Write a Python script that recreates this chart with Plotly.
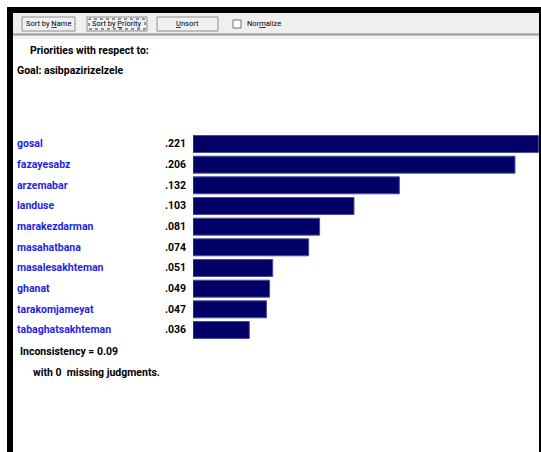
import plotly.graph_objects as go

W, H = 541, 452

categories = ["gosal", "fazayesabz", "arzemabar", "landuse", "marakezdarman",
              "masahatbana", "masalesakhteman", "ghanat", "tarakomjameyat",
              "tabaghatsakhteman"]
priorities = [0.221, 0.206, 0.132, 0.103, 0.081, 0.074, 0.051, 0.049, 0.047, 0.036]
value_labels = [".221", ".206", ".132", ".103", ".081", ".074", ".051", ".049", ".047", ".036"]
button_labels = ["Sort by <u>N</u>ame", "Sort by <u>P</u>riority", "<u>U</u>nsort"]
title_line1 = "Priorities with respect to:"
title_line2 = "Goal: asibpazirizelzele"
inconsistency_text = "Inconsistency = 0.09"
missing_text = "with 0  missing judgments."

FONT = "Roboto, 'Liberation Sans', sans-serif"
FS = 10.5
LABEL_BLUE = "#1f1fe6"
BAR_FILL = "#000066"


def px(x):
    return x / W


def py(y):
    return 1 - y / H


fig = go.Figure()
fig.add_trace(go.Bar(
    x=priorities, y=categories, orientation="h", width=0.82,
    marker=dict(color=BAR_FILL, line=dict(color="#4a4a9a", width=1)),
    hoverinfo="skip",
))

shapes = []
shapes.append(dict(type="rect", xref="paper", yref="paper", x0=px(13), x1=px(539),
                   y0=py(34), y1=py(13), fillcolor="#efefef", line=dict(width=0), layer="below"))
shapes.append(dict(type="line", xref="paper", yref="paper", x0=px(13), x1=px(539),
                   y0=py(34.5), y1=py(34.5), line=dict(color="#9a9a9a", width=2)))
shapes.append(dict(type="rect", xref="paper", yref="paper", x0=px(13), x1=px(539),
                   y0=py(39), y1=py(35.5), fillcolor="#f3f3f3", line=dict(width=0), layer="below"))
btn_x = [(22, 75), (87, 147), (157, 218)]
for i, (a, b) in enumerate(btn_x):
    shapes.append(dict(type="rect", xref="paper", yref="paper", x0=px(a), x1=px(b),
                       y0=py(31), y1=py(17), fillcolor="#f0f0f0",
                       line=dict(color="#8c8c8c", width=1)))
shapes.append(dict(type="rect", xref="paper", yref="paper", x0=px(89), x1=px(145),
                   y0=py(29), y1=py(19), fillcolor="rgba(0,0,0,0)",
                   line=dict(color="#333333", width=1, dash="dot")))
shapes.append(dict(type="rect", xref="paper", yref="paper", x0=px(233), x1=px(241),
                   y0=py(28), y1=py(20), fillcolor="#ffffff",
                   line=dict(color="#707070", width=1)))
shapes.append(dict(type="rect", xref="paper", yref="paper", x0=px(7), x1=px(541),
                   y0=py(13), y1=py(7), fillcolor="#000000", line=dict(width=0)))
shapes.append(dict(type="rect", xref="paper", yref="paper", x0=px(7), x1=px(13),
                   y0=py(452), y1=py(7), fillcolor="#000000", line=dict(width=0)))
shapes.append(dict(type="rect", xref="paper", yref="paper", x0=px(539), x1=px(541),
                   y0=py(452), y1=py(7), fillcolor="#000000", line=dict(width=0)))

annotations = []
for i, lab in enumerate(button_labels):
    a, b = btn_x[i]
    annotations.append(dict(text=lab, xref="paper", yref="paper", x=px((a + b) / 2), y=py(24),
                            showarrow=False, xanchor="center", yanchor="middle",
                            font=dict(family=FONT, size=7.5, color="#000000")))
annotations.append(dict(text="Nor<u>m</u>alize", xref="paper", yref="paper", x=px(245), y=py(24),
                        showarrow=False, xanchor="left", yanchor="middle",
                        font=dict(family=FONT, size=7.5, color="#000000")))
annotations.append(dict(text="<b>" + title_line1 + "</b>", xref="paper", yref="paper",
                        x=px(28), y=py(50), showarrow=False, xanchor="left", yanchor="middle",
                        font=dict(family=FONT, size=FS, color="#000000")))
annotations.append(dict(text="<b>" + title_line2 + "</b>", xref="paper", yref="paper",
                        x=px(15), y=py(71), showarrow=False, xanchor="left", yanchor="middle",
                        font=dict(family=FONT, size=FS, color="#000000")))
for cat, val in zip(categories, value_labels):
    annotations.append(dict(text="<b>" + cat + "</b>", xref="paper", yref="y",
                            x=px(15), y=cat, showarrow=False, xanchor="left", yanchor="middle",
                            font=dict(family=FONT, size=FS, color=LABEL_BLUE)))
    annotations.append(dict(text="<b>" + val + "</b>", xref="paper", yref="y",
                            x=px(188), y=cat, showarrow=False, xanchor="right", yanchor="middle",
                            font=dict(family=FONT, size=FS, color="#000000")))
annotations.append(dict(text="<b>" + inconsistency_text + "</b>", xref="paper", yref="paper",
                        x=px(18), y=py(351), showarrow=False, xanchor="left", yanchor="middle",
                        font=dict(family=FONT, size=FS, color="#000000")))
annotations.append(dict(text="<b>" + missing_text + "</b>", xref="paper", yref="paper",
                        x=px(31), y=py(372), showarrow=False, xanchor="left", yanchor="middle",
                        font=dict(family=FONT, size=FS, color="#000000")))

step = (330 - 144) / 9
top = 144 - step / 2
bottom = 330 + step / 2

fig.update_layout(
    width=W, height=H, autosize=False,
    margin=dict(l=0, r=0, t=0, b=0),
    paper_bgcolor="#ffffff", plot_bgcolor="rgba(0,0,0,0)",
    showlegend=False,
    xaxis=dict(domain=[px(193), px(539)], range=[0, (539 - 193) / 1563],
               showticklabels=False, showgrid=False, zeroline=False, showline=False, fixedrange=True),
    yaxis=dict(domain=[py(bottom), py(top)], type="category",
               categoryorder="array", categoryarray=categories,
               range=[len(categories) - 0.5, -0.5],
               showticklabels=False, showgrid=False, zeroline=False, showline=False, fixedrange=True),
    shapes=shapes, annotations=annotations,
)

fig.write_html("out.html", config={"displayModeBar": False, "responsive": False},
               post_script="document.body.style.margin='0';document.body.style.overflow='hidden';")
